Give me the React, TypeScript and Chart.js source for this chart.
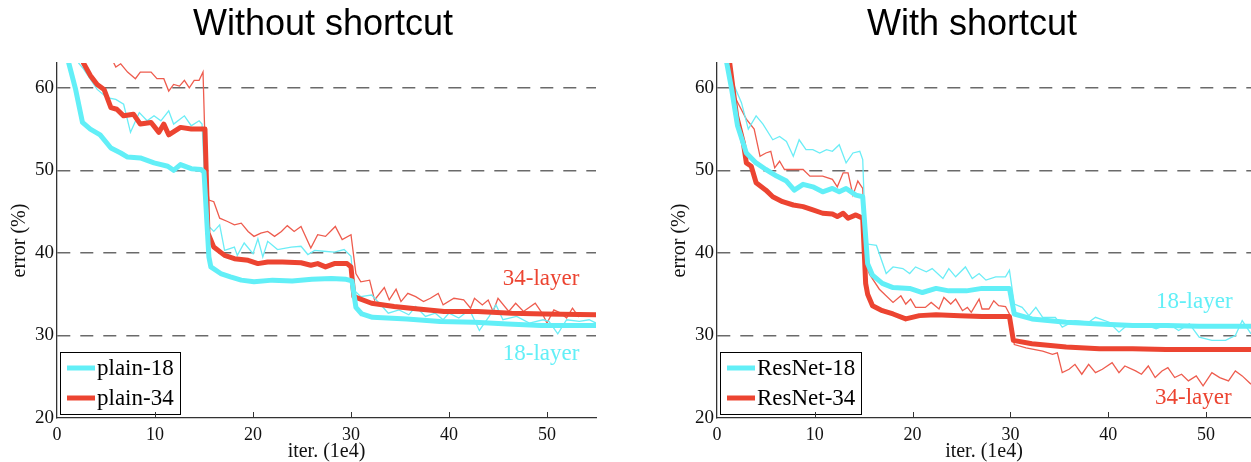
import React, { useEffect, useRef } from "react";
import { Chart, registerables } from "chart.js";

Chart.register(...registerables);

// ---------- colours ----------
const CYAN = "#62EFF7";
const CYAN_THIN = "#6BEDF6";
const RED = "#EC4431";
const RED_THIN = "#EE5C4E";

// ---------- axes ----------
const xTicks = [0, 10, 20, 30, 40, 50];
const yTicks = [20, 30, 40, 50, 60];
const yMin = 20;
const yMax = 63;
const leftXMax = 55;
const rightXMax = 54.6;

// ---------- Without shortcut (plain nets) ----------
const plain18ValX = [0.9, 1.2, 1.9, 2.6, 3.4, 4.4, 5.5, 6.5, 7.2, 8.5, 9.9, 11.3, 11.9, 12.6, 13.7, 14.7, 15.0, 15.5, 15.7, 16.7, 17.7, 18.8, 20.1, 22, 24, 26, 28, 29.5, 30.1, 30.5, 31.1, 32.2, 35.7, 39.1, 42.6, 46, 49.4, 52.3, 55];
const plain18ValY = [67, 63, 59.8, 55.8, 55, 54.3, 52.7, 52.1, 51.6, 51.5, 50.9, 50.5, 50, 50.7, 50.2, 50.1, 49.8, 39.5, 38.3, 37.5, 37.1, 36.7, 36.5, 36.7, 36.6, 36.8, 36.9, 36.8, 36.6, 33.4, 32.6, 32.2, 32, 31.7, 31.6, 31.4, 31.2, 31.2, 31.2];

const plain34ValX = [2.4, 2.7, 3.4, 4.1, 4.8, 5.5, 6.1, 6.8, 7.8, 8.5, 9.6, 10.4, 10.9, 11.4, 12.6, 13.7, 15.1, 15.4, 16, 17.1, 18.1, 19.5, 20.5, 21.5, 23, 24.9, 25.9, 26.6, 27.4, 28.3, 29.6, 30, 30.3, 32.1, 34.4, 36.1, 39.5, 42.9, 46.4, 49.8, 55];
const plain34ValY = [66, 63, 61.5, 60.4, 59.8, 57.6, 57.4, 56.6, 56.8, 55.6, 55.8, 54.6, 55.6, 54.3, 55.2, 55, 55, 42.4, 40.7, 39.7, 39.3, 39.1, 38.7, 38.9, 38.9, 38.8, 38.5, 38.7, 38.3, 38.7, 38.7, 38.3, 34.7, 33.9, 33.5, 33.3, 32.9, 32.9, 32.7, 32.6, 32.5];

const plain18TrainX = [1.9, 2.2, 2.7, 4.1, 5.1, 6, 6.8, 7.5, 8.4, 9.2, 9.9, 10.6, 11.4, 11.9, 13, 13.7, 14.5, 14.8, 15.2, 15.5, 16, 16.6, 17.1, 18.1, 18.4, 19.1, 20, 20.5, 21, 21.5, 22.5, 23.9, 24.9, 25.6, 26.3, 27.2, 28.3, 29.3, 30, 30.3, 31, 32.1, 33.2, 33.8, 34.9, 35.9, 36.6, 37.6, 38.6, 39.4, 40, 41, 42.1, 43.1, 44.1, 44.8, 45.5, 46.9, 48.2, 49.6, 50.2, 51.1, 52, 53.3, 54.3, 55];
const plain18TrainY = [68, 63, 62.3, 59.8, 58.8, 58.6, 58, 54.6, 57, 56, 56.6, 56, 57.2, 55.6, 56.6, 55.4, 56, 55.6, 46, 43.2, 42.6, 43.4, 40.3, 40.7, 39.7, 41.2, 39.9, 41.7, 39.5, 41.4, 40.4, 40.7, 40.8, 39.8, 40.3, 40.2, 40.1, 40.4, 39.6, 35.5, 34.7, 34.9, 33.5, 32.7, 33.1, 32.5, 33.5, 32.3, 32.7, 31.9, 32.7, 32.1, 33.1, 30.6, 32.3, 33.7, 31.9, 32.3, 31.5, 31.9, 31.7, 30.2, 31.9, 31.7, 31.9, 31.5];

const plain34TrainX = [5.5, 5.8, 6, 6.5, 7.2, 8, 8.5, 9.6, 10.2, 10.9, 11.4, 11.9, 12.5, 13, 13.5, 14, 14.5, 14.9, 15.2, 15.5, 16, 16.6, 17.4, 18.1, 18.8, 19.5, 20.1, 20.8, 21.5, 22.2, 22.9, 23.5, 24.2, 24.9, 25.9, 26.6, 27.4, 28.4, 29.1, 30, 30.5, 31, 31.9, 32.4, 33.4, 33.9, 34.6, 35.1, 35.8, 36.6, 37.4, 38.1, 38.9, 39.4, 40.5, 41.5, 42.2, 42.6, 43.4, 44, 44.5, 45, 46.1, 46.8, 47.6, 48.8, 49.5, 50, 50.7, 51.4, 52, 52.6, 53.2, 54.3, 55];
const plain34TrainY = [65, 63, 62.5, 62.9, 61.9, 61.1, 61.9, 61.9, 61.1, 61.1, 59.6, 60.4, 60.2, 60.9, 60, 60.9, 60.9, 61.9, 49.3, 46.4, 46.2, 44.2, 43.8, 43.4, 43.6, 42.6, 42, 42.4, 42.6, 42, 42.6, 43.3, 42.6, 43.2, 40.6, 42.2, 42, 43.2, 41.6, 42.2, 37.5, 36.5, 36.7, 34.3, 35.8, 34.3, 35.6, 34.1, 35.1, 34.7, 34.1, 34.5, 35.1, 33.7, 34.5, 34.3, 33.3, 34.5, 33.7, 34.3, 32.9, 34.5, 32.9, 33.9, 32.9, 33.9, 32.7, 31.5, 33.1, 32.7, 32.1, 33.3, 32.3, 32.5, 32.3];

// ---------- With shortcut (ResNets) ----------
const res18ValX = [0.8, 1, 1.5, 2.1, 3, 4, 5, 6.1, 7.1, 7.9, 8.8, 9.8, 10.8, 11.8, 12.5, 13.2, 14.2, 14.9, 15.4, 15.9, 16.9, 18, 19.7, 21, 22.4, 23.7, 25.5, 27.1, 29.9, 30.4, 32.2, 35.7, 39.1, 42.5, 45.9, 49.3, 54.6];
const res18ValY = [67, 63, 59.8, 55.4, 52.1, 50.9, 50.1, 49.3, 48.7, 47.6, 48.3, 48, 47.4, 47.8, 47.4, 47.8, 47, 46.8, 38.7, 37.3, 36.3, 35.8, 35.7, 35.2, 35.7, 35.4, 35.4, 35.7, 35.7, 32.6, 32, 31.6, 31.4, 31.2, 31.2, 31.1, 31.1];

const res34ValX = [1.1, 1.3, 2, 2.7, 3, 3.5, 4, 5, 5.7, 6.7, 7.8, 8.8, 9.8, 10.8, 11.8, 12.3, 12.9, 13.4, 14.2, 14.9, 15.2, 15.4, 15.9, 16.9, 18, 19.3, 20.7, 22.4, 24.8, 27.1, 29.9, 30.3, 32.2, 35.7, 39.1, 42.5, 45.9, 49.3, 54.6];
const res34ValY = [67, 63, 56.6, 53.3, 50.9, 50.5, 48.5, 47.6, 46.8, 46.2, 45.8, 45.6, 45.2, 44.8, 44.7, 44.4, 44.8, 44.2, 44.6, 44.2, 36.3, 35, 33.6, 33, 32.6, 32, 32.4, 32.5, 32.4, 32.3, 32.3, 29.4, 29, 28.6, 28.4, 28.4, 28.3, 28.3, 28.3];

const res18TrainX = [0.9, 1.1, 1.6, 2.5, 3.2, 4, 4.7, 5.7, 6.4, 7.1, 7.8, 8.4, 9.1, 9.8, 10.5, 11.2, 11.8, 12.5, 13.2, 13.9, 14.6, 14.9, 15.2, 16.3, 17.3, 18, 19, 19.7, 20.3, 21.4, 22, 23.1, 23.7, 24.4, 25.4, 26.1, 26.8, 27.5, 28.5, 29.5, 29.9, 30.4, 31.2, 31.9, 32.6, 33.3, 34.6, 35.3, 36.6, 38, 38.7, 40.1, 41.1, 42.1, 43.5, 44.9, 46.2, 47.2, 48.3, 49.3, 50.6, 52, 53, 53.7, 54.6];
const res18TrainY = [67, 63, 60.7, 58.2, 55, 56.6, 55.6, 53.7, 54.1, 53.5, 51.7, 53.7, 52.5, 52.5, 52.1, 52.5, 52.3, 53.1, 50.9, 52.1, 52.3, 51.3, 41.1, 40.9, 37.5, 38.3, 38.1, 37.5, 38.3, 37.7, 38.1, 36.9, 38.1, 37.1, 38.3, 36.9, 37.5, 36.7, 37.1, 37.1, 37.9, 33.8, 33.4, 32.4, 33.4, 32.2, 32.2, 31, 31.8, 31.6, 32.2, 31.6, 30.4, 31.4, 31.4, 30.8, 31.4, 30.6, 31.4, 29.8, 29.4, 29.4, 30, 31.8, 30.2];

const res34TrainX = [0.9, 1.1, 1.6, 2.3, 3, 3.8, 4.4, 5, 5.5, 5.9, 6.4, 6.9, 7.8, 8.8, 9.5, 10.1, 10.8, 11.8, 12.3, 12.9, 13.4, 13.9, 14.4, 14.9, 15.2, 15.6, 16.6, 18, 18.8, 19.3, 19.8, 20.3, 21.3, 21.9, 22.7, 23.2, 23.9, 24.4, 25.1, 25.6, 26, 26.8, 27.1, 27.8, 28.3, 28.8, 29.5, 29.9, 30.4, 31.6, 33.3, 34.3, 34.8, 35.3, 36, 36.6, 37.3, 38, 38.7, 39.4, 40.4, 41.1, 41.7, 42.8, 43.4, 44.1, 44.8, 45.5, 46.1, 46.8, 47.5, 48.2, 49, 49.7, 50.6, 51.4, 52.3, 53, 53.7, 54.6];
const res34TrainY = [67, 63, 59.4, 57.8, 56.2, 55, 51.7, 52.1, 52.3, 50.3, 51.1, 50.1, 50.1, 50.1, 49.3, 49.3, 49.3, 48.9, 48, 49.7, 49.7, 47, 48.7, 47.8, 38.7, 37.4, 35.6, 34, 34.8, 33.8, 34.4, 33.4, 33.4, 34, 33.2, 34.6, 33.8, 34.4, 33, 33.4, 32.8, 34.4, 33.2, 33.2, 34.2, 33.6, 33.5, 32.6, 28.9, 28.5, 28.1, 27.7, 27.9, 25.5, 25.9, 26.5, 25.3, 26.5, 25.5, 25.9, 26.7, 25.5, 26.3, 25.7, 25.3, 26.3, 24.9, 25.7, 26.1, 24.9, 25.3, 24.5, 25.1, 23.9, 25.5, 24.9, 24.5, 25.7, 25.1, 24.1];

// ---------- annotations ----------
const leftNoteText = ["34-layer", "18-layer"];
const leftNoteX = [49.4, 49.4];
const leftNoteY = [36.8, 27.7];
const leftNoteColor = [RED, CYAN];
const rightNoteText = ["18-layer", "34-layer"];
const rightNoteX = [48.8, 48.7];
const rightNoteY = [34.0, 22.4];
const rightNoteColor = [CYAN, RED];

const SERIF = '"Liberation Serif", "Times New Roman", serif';

function pts(xs: number[], ys: number[]) {
  return xs.map((x, i) => ({ x, y: ys[i] }));
}

function thick(label: string, xs: number[], ys: number[], color: string) {
  return {
    label,
    data: pts(xs, ys),
    borderColor: color,
    backgroundColor: color,
    borderWidth: 5,
    pointRadius: 0,
    tension: 0,
    fill: false,
    clip: 0,
    borderJoinStyle: "round",
    borderCapStyle: "round",
    inLegend: true,
  };
}

function thin(label: string, xs: number[], ys: number[], color: string) {
  return {
    label,
    data: pts(xs, ys),
    borderColor: color,
    backgroundColor: color,
    borderWidth: 1.3,
    pointRadius: 0,
    tension: 0,
    fill: false,
    clip: 0,
    inLegend: false,
  };
}

const legendBoxPlugin = {
  id: "legendBox",
  afterDatasetsDraw(chart: any) {
    const { ctx, chartArea } = chart;
    const items = chart.data.datasets.filter((d: any) => d.inLegend);
    ctx.save();
    ctx.font = `23px ${SERIF}`;
    const textW = Math.max(...items.map((d: any) => ctx.measureText(d.label).width));
    const h = 62;
    const left = Math.round(chartArea.left + 3);
    const top = Math.round(chartArea.bottom - 4 - h);
    const w = Math.round(7 + 28 + 2 + textW + 6);
    ctx.fillStyle = "#fff";
    ctx.fillRect(left, top, w, h);
    ctx.strokeStyle = "#000";
    ctx.lineWidth = 1;
    ctx.strokeRect(left + 0.5, top + 0.5, w, h);
    items.forEach((d: any, i: number) => {
      const y = top + 16 + i * 30;
      ctx.strokeStyle = d.borderColor;
      ctx.lineWidth = d.borderWidth;
      ctx.lineCap = "butt";
      ctx.beginPath();
      ctx.moveTo(left + 7, y);
      ctx.lineTo(left + 35, y);
      ctx.stroke();
      ctx.fillStyle = "#000";
      ctx.textBaseline = "middle";
      ctx.textAlign = "left";
      ctx.fillText(d.label, left + 37, y + 1);
    });
    ctx.restore();
  },
};

const innerTicksPlugin = {
  id: "innerTicks",
  afterDraw(chart: any) {
    const { ctx, chartArea, scales } = chart;
    ctx.save();
    ctx.strokeStyle = "#333";
    ctx.lineWidth = 1;
    xTicks.forEach((v) => {
      if (v === 0) return;
      const x = Math.round(scales.x.getPixelForValue(v)) + 0.5;
      ctx.beginPath();
      ctx.moveTo(x, chartArea.bottom);
      ctx.lineTo(x, chartArea.bottom - 6);
      ctx.stroke();
    });
    ctx.restore();
  },
};

function notesPlugin(texts: string[], xs: number[], ys: number[], colors: string[]) {
  return {
    id: "notes",
    afterDatasetsDraw(chart: any) {
      const { ctx, scales } = chart;
      ctx.save();
      ctx.font = `23px ${SERIF}`;
      ctx.textAlign = "center";
      ctx.textBaseline = "middle";
      texts.forEach((t, i) => {
        ctx.fillStyle = colors[i];
        ctx.fillText(t, scales.x.getPixelForValue(xs[i]), scales.y.getPixelForValue(ys[i]));
      });
      ctx.restore();
    },
  };
}

function makeConfig(datasets: any[], xMax: number, rightPad: number, notes: any) {
  return {
    type: "line",
    data: { datasets },
    options: {
      animation: false,
      responsive: false,
      devicePixelRatio: 1,
      parsing: true,
      layout: { padding: { top: 63, right: rightPad, left: 0, bottom: 0 } },
      plugins: { legend: { display: false }, tooltip: { enabled: false }, title: { display: false } },
      scales: {
        x: {
          type: "linear",
          min: 0,
          max: xMax,
          afterBuildTicks: (scale: any) => {
            scale.ticks = xTicks.map((v) => ({ value: v }));
          },
          afterFit: (scale: any) => {
            scale.height = 44;
          },
          ticks: {
            color: "#111",
            font: { family: SERIF, size: 18 },
            padding: 6,
            maxRotation: 0,
            autoSkip: false,
          },
          grid: { display: true, color: "rgba(0,0,0,0)", drawTicks: false },
          border: { display: true, color: "#333", width: 1.3 },
          title: {
            display: true,
            text: "iter. (1e4)",
            color: "#111",
            font: { family: SERIF, size: 20, lineHeight: 1 },
            padding: { top: 0, bottom: 0 },
          },
        },
        y: {
          type: "linear",
          min: yMin,
          max: yMax,
          afterBuildTicks: (scale: any) => {
            scale.ticks = yTicks.map((v) => ({ value: v }));
          },
          afterFit: (scale: any) => {
            scale.width = 57;
          },
          ticks: {
            color: "#111",
            font: { family: SERIF, size: 19 },
            padding: 3,
            autoSkip: false,
          },
          grid: {
            display: true,
            drawTicks: false,
            color: (ctx: any) => (ctx.tick && ctx.tick.value === yMin ? "rgba(0,0,0,0)" : "#6a6a6a"),
            lineWidth: 1.4,
          },
          border: { display: true, color: "#333", width: 1.3, dash: [13, 10] },
          title: {
            display: true,
            text: "error (%)",
            color: "#111",
            font: { family: SERIF, size: 20, lineHeight: 1.2 },
            padding: { top: 8, bottom: 0 },
          },
        },
      },
    },
    plugins: [legendBoxPlugin, innerTicksPlugin, notes],
  };
}

export default function App() {
  const leftRef = useRef<HTMLCanvasElement | null>(null);
  const rightRef = useRef<HTMLCanvasElement | null>(null);

  useEffect(() => {
    const left = new Chart(
      leftRef.current as HTMLCanvasElement,
      makeConfig(
        [
          thick("plain-18", plain18ValX, plain18ValY, CYAN),
          thick("plain-34", plain34ValX, plain34ValY, RED),
          thin("plain-18 train", plain18TrainX, plain18TrainY, CYAN_THIN),
          thin("plain-34 train", plain34TrainX, plain34TrainY, RED_THIN),
        ],
        leftXMax,
        24,
        notesPlugin(leftNoteText, leftNoteX, leftNoteY, leftNoteColor)
      ) as any
    );
    const right = new Chart(
      rightRef.current as HTMLCanvasElement,
      makeConfig(
        [
          thick("ResNet-18", res18ValX, res18ValY, CYAN),
          thick("ResNet-34", res34ValX, res34ValY, RED),
          thin("ResNet-18 train", res18TrainX, res18TrainY, CYAN_THIN),
          thin("ResNet-34 train", res34TrainX, res34TrainY, RED_THIN),
        ],
        rightXMax,
        0,
        notesPlugin(rightNoteText, rightNoteX, rightNoteY, rightNoteColor)
      ) as any
    );
    return () => {
      left.destroy();
      right.destroy();
    };
  }, []);

  const titleStyle: React.CSSProperties = {
    position: "absolute",
    top: 5,
    width: 400,
    textAlign: "center",
    fontFamily: '"Liberation Sans", Arial, sans-serif',
    fontSize: 36,
    lineHeight: "36px",
    color: "#000",
    whiteSpace: "nowrap",
  };

  return (
    <div
      style={{
        position: "absolute",
        left: 0,
        top: 0,
        width: 1251,
        height: 462,
        background: "#fff",
        overflow: "hidden",
      }}
    >
      <canvas ref={leftRef} width={620} height={462} style={{ position: "absolute", left: 0, top: 0 }} />
      <canvas ref={rightRef} width={591} height={462} style={{ position: "absolute", left: 660, top: 0 }} />
      <div style={{ ...titleStyle, left: 323 - 200 }}>Without shortcut</div>
      <div style={{ ...titleStyle, left: 972 - 200 }}>With shortcut</div>
    </div>
  );
}
